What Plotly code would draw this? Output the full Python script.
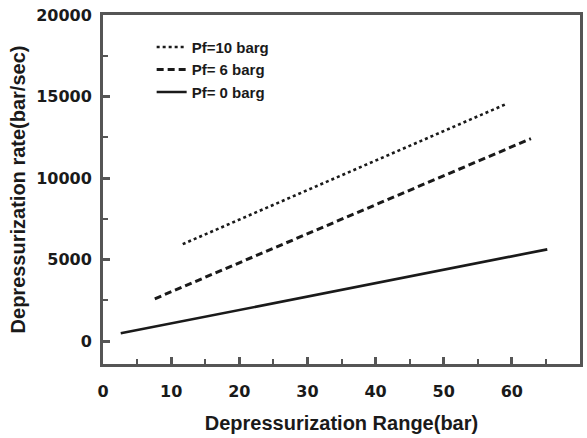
import plotly.graph_objects as go

# Data (straight lines, endpoints)
x_pf10 = [11.7, 59.1]
y_pf10 = [5950, 14530]
x_pf6 = [7.6, 62.8]
y_pf6 = [2600, 12420]
x_pf0 = [2.6, 65.2]
y_pf0 = [480, 5630]

names = ["Pf=10 barg", "Pf= 6 barg", "Pf= 0 barg"]
x_ticks = [0, 10, 20, 30, 40, 50, 60, 70]
y_ticks = [0, 5000, 10000, 15000, 20000]
x_range = [0, 70]
y_range = [-1400, 20000]

INK = "#1a1a1a"
AXIS = "#555555"
TICKFONT = dict(family="DejaVu Sans", size=16, color=INK, weight="bold")
TITLEFONT = dict(family="Liberation Sans", size=20, color=INK, weight="bold")
LEGFONT = dict(family="Liberation Sans", size=15, color=INK, weight="bold")

fig = go.Figure()
fig.add_trace(go.Scatter(x=x_pf10, y=y_pf10, mode="lines", name=names[0],
                         line=dict(color=INK, width=2.6, dash="dot")))
fig.add_trace(go.Scatter(x=x_pf6, y=y_pf6, mode="lines", name=names[1],
                         line=dict(color=INK, width=3, dash="7px,4px")))
fig.add_trace(go.Scatter(x=x_pf0, y=y_pf0, mode="lines", name=names[2],
                         line=dict(color=INK, width=2.6)))

fig.update_xaxes(
    range=x_range, tickmode="array", tickvals=x_ticks, ticktext=[str(v) for v in x_ticks],
    showline=True, linecolor=AXIS, linewidth=3, mirror=True,
    ticks="inside", ticklen=7, tickwidth=2.5, tickcolor=AXIS,
    minor=dict(ticks="inside", ticklen=5, tickwidth=2, tickcolor=AXIS, dtick=5, tick0=0),
    showgrid=False, zeroline=False, tickfont=TICKFONT, ticklabelstandoff=11,
    title=dict(text="Depressurization Range(bar)", font=TITLEFONT, standoff=16),
)
fig.update_yaxes(
    range=y_range, tickmode="array", tickvals=y_ticks, ticktext=[str(v) for v in y_ticks],
    showline=True, linecolor=AXIS, linewidth=3, mirror=True,
    ticks="inside", ticklen=7, tickwidth=2.5, tickcolor=AXIS,
    minor=dict(ticks="inside", ticklen=5, tickwidth=2, tickcolor=AXIS, dtick=2500, tick0=0),
    showgrid=False, zeroline=False, tickfont=TICKFONT, ticklabelstandoff=5,
    title=dict(text="Depressurization rate(bar/sec)", font=TITLEFONT, standoff=6),
)

fig.update_layout(
    width=587, height=438,
    margin=dict(l=103, r=4, t=15, b=74),
    paper_bgcolor="white", plot_bgcolor="white",
    showlegend=True,
    legend=dict(x=0.102, y=0.955, xanchor="left", yanchor="top",
                bgcolor="rgba(0,0,0,0)", borderwidth=0,
                font=LEGFONT, tracegroupgap=0),
)

fig.write_html("out.html")
